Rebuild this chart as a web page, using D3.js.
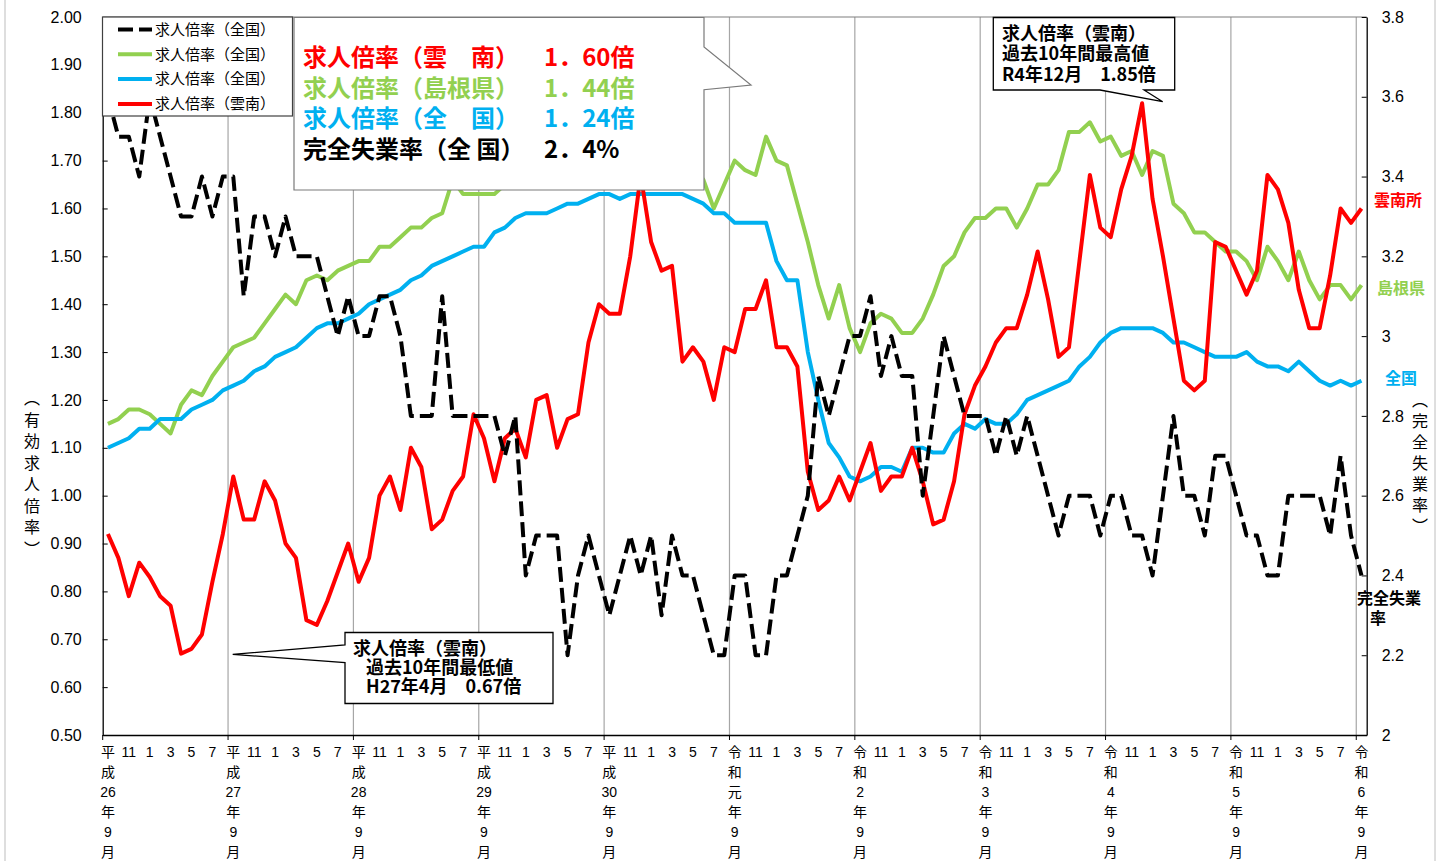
<!DOCTYPE html>
<html><head><meta charset="utf-8">
<script src="https://cdn.jsdelivr.net/npm/d3@7"></script>
<style>body{margin:0;background:#fff}svg{display:block}</style>
</head><body>
<svg id="chart" width="1445" height="861"></svg>
<script>
// ---------------- DATA ----------------
// monthly categories: 2014-09 (H26.9) ... 2024-09 (R6.9), 121 months
const months = d3.range(121).map(i => {
  const m = (8 + i) % 12 + 1, y = 2014 + Math.floor((8 + i) / 12);
  return y + "-" + String(m).padStart(2, "0");
});

// 有効求人倍率（雲南）
const ratioUnnan = [
  0.92,0.87,0.79,0.86,0.83,0.79,0.77,0.67,0.68,0.71,0.82,0.92,
  1.04,0.95,0.95,1.03,0.99,0.90,0.87,0.74,0.73,0.78,0.84,0.90,
  0.82,0.87,1.00,1.04,0.97,1.10,1.06,0.93,0.95,1.01,1.04,1.17,
  1.12,1.03,1.12,1.14,1.08,1.20,1.21,1.10,1.16,1.17,1.32,1.40,
  1.38,1.38,1.50,1.67,1.53,1.47,1.48,1.28,1.31,1.28,1.20,1.31,
  1.30,1.39,1.39,1.45,1.31,1.31,1.27,1.05,0.97,0.99,1.04,0.99,
  1.05,1.11,1.01,1.04,1.04,1.10,1.03,0.94,0.95,1.03,1.17,1.23,
  1.27,1.32,1.35,1.35,1.42,1.51,1.41,1.29,1.31,1.49,1.67,1.56,
  1.54,1.64,1.71,1.82,1.62,1.50,1.37,1.24,1.22,1.24,1.53,1.52,
  1.47,1.42,1.47,1.67,1.64,1.57,1.43,1.35,1.35,1.46,1.60,1.57,
  1.60
];
// 有効求人倍率（島根県）
const ratioShimane = [
  1.15,1.16,1.18,1.18,1.17,1.15,1.13,1.19,1.22,1.21,1.25,1.28,
  1.31,1.32,1.33,1.36,1.39,1.42,1.40,1.45,1.46,1.45,1.47,1.48,
  1.49,1.49,1.52,1.52,1.54,1.56,1.56,1.58,1.59,1.66,1.63,1.63,
  1.63,1.63,1.65,1.66,1.67,1.66,1.67,1.68,1.69,1.70,1.70,1.71,
  1.72,1.72,1.71,1.72,1.71,1.70,1.71,1.70,1.69,1.66,1.60,1.65,
  1.70,1.68,1.67,1.75,1.70,1.69,1.61,1.53,1.44,1.37,1.44,1.35,
  1.30,1.36,1.38,1.37,1.34,1.34,1.37,1.42,1.48,1.50,1.55,1.58,
  1.58,1.60,1.60,1.56,1.60,1.65,1.65,1.68,1.76,1.76,1.78,1.74,
  1.75,1.71,1.72,1.67,1.72,1.71,1.61,1.59,1.55,1.55,1.53,1.51,
  1.51,1.49,1.45,1.52,1.49,1.45,1.51,1.45,1.41,1.44,1.44,1.41,
  1.44
];
// 有効求人倍率（全国）
const ratioNational = [
  1.10,1.11,1.12,1.14,1.14,1.16,1.16,1.16,1.18,1.19,1.20,1.22,
  1.23,1.24,1.26,1.27,1.29,1.30,1.31,1.33,1.35,1.36,1.36,1.37,
  1.38,1.40,1.41,1.42,1.43,1.45,1.46,1.48,1.49,1.50,1.51,1.52,
  1.52,1.55,1.56,1.58,1.59,1.59,1.59,1.60,1.61,1.61,1.62,1.63,
  1.63,1.62,1.63,1.63,1.63,1.63,1.63,1.63,1.62,1.61,1.59,1.59,
  1.57,1.57,1.57,1.57,1.49,1.45,1.45,1.30,1.20,1.11,1.08,1.04,
  1.03,1.04,1.06,1.06,1.05,1.10,1.10,1.09,1.09,1.13,1.15,1.14,
  1.16,1.15,1.15,1.17,1.20,1.21,1.22,1.23,1.24,1.27,1.29,1.32,
  1.34,1.35,1.35,1.35,1.35,1.34,1.32,1.32,1.31,1.30,1.29,1.29,
  1.29,1.30,1.28,1.27,1.27,1.26,1.28,1.26,1.24,1.23,1.24,1.23,
  1.24
];
// 完全失業率（全国） — right axis
const unemployment = [
  3.6,3.5,3.5,3.4,3.6,3.5,3.4,3.3,3.3,3.4,3.3,3.4,
  3.4,3.1,3.3,3.3,3.2,3.3,3.2,3.2,3.2,3.1,3.0,3.1,
  3.0,3.0,3.1,3.1,3.0,2.8,2.8,2.8,3.1,2.8,2.8,2.8,
  2.8,2.8,2.7,2.8,2.4,2.5,2.5,2.5,2.2,2.4,2.5,2.4,
  2.3,2.4,2.5,2.4,2.5,2.3,2.5,2.4,2.4,2.3,2.2,2.2,
  2.4,2.4,2.2,2.2,2.4,2.4,2.5,2.6,2.9,2.8,2.9,3.0,
  3.0,3.1,2.9,3.0,2.9,2.9,2.6,2.8,3.0,2.9,2.8,2.8,
  2.8,2.7,2.8,2.7,2.8,2.7,2.6,2.5,2.6,2.6,2.6,2.5,
  2.6,2.6,2.5,2.5,2.4,2.6,2.8,2.6,2.6,2.5,2.7,2.7,
  2.6,2.5,2.5,2.4,2.4,2.6,2.6,2.6,2.6,2.5,2.7,2.5,
  2.4
];

const leftTicks = [0.5,0.6,0.7,0.8,0.9,1.0,1.1,1.2,1.3,1.4,1.5,1.6,1.7,1.8,1.9,2.0];
const rightTicks = [2,2.2,2.4,2.6,2.8,3,3.2,3.4,3.6,3.8];
const xTickLabels = [
  "平|成|26|年|9|月","11","1","3","5","7",
  "平|成|27|年|9|月","11","1","3","5","7",
  "平|成|28|年|9|月","11","1","3","5","7",
  "平|成|29|年|9|月","11","1","3","5","7",
  "平|成|30|年|9|月","11","1","3","5","7",
  "令|和|元|年|9|月","11","1","3","5","7",
  "令|和|2|年|9|月","11","1","3","5","7",
  "令|和|3|年|9|月","11","1","3","5","7",
  "令|和|4|年|9|月","11","1","3","5","7",
  "令|和|5|年|9|月","11","1","3","5","7",
  "令|和|6|年|9|月"
];
const legendLabels = ["求人倍率（全国）","求人倍率（全国）","求人倍率（全国）","求人倍率（雲南）"];
const summaryLabels = ["求人倍率（雲　南）","求人倍率（島根県）","求人倍率（全　国）","完全失業率（全 国）"];
const summaryValues = ["1．60倍","1．44倍","1．24倍","2．4%"];
const leftTitle = ["︵","有","効","求","人","倍","率","︶"];
const rightTitle = ["︵","完","全","失","業","率","︶"];
const lowNote = ["求人倍率（雲南）","過去10年間最低値","H27年4月　0.67倍"];
const highNote = ["求人倍率（雲南）","過去10年間最高値","R4年12月　1.85倍"];

// ---------------- STYLE / LAYOUT ----------------
const C = {red:"#FF0000", green:"#92D050", blue:"#00B0F0", black:"#000000"};
const JP = "'Noto Sans CJK JP','Noto Sans CJK SC',sans-serif";
const NUM = "'Liberation Sans',Arial,'Noto Sans CJK JP',sans-serif";
const P = {left:102.7, right:1366.7, top:17, bottom:735};

const svg = d3.select("#chart");
const x = d3.scaleBand().domain(months).range([P.left, P.right]).padding(0);
const cx = i => x(months[i]) + x.bandwidth() / 2;
const yL = d3.scaleLinear().domain([0.5, 2.0]).range([P.bottom, P.top]);
const yR = d3.scaleLinear().domain([2, 3.8]).range([P.bottom, P.top]);

// chart area border
svg.append("rect").attr("x",5).attr("y",-3).attr("width",1430).attr("height",870)
  .attr("fill","#fff").attr("stroke","#d4d4d4").attr("stroke-width",1.5);

// vertical gridlines at each September boundary
const gridIdx = d3.range(12, 121, 12);
svg.append("g").selectAll("line").data(gridIdx).join("line")
  .attr("x1", i => x(months[i])).attr("x2", i => x(months[i]))
  .attr("y1", P.top).attr("y2", P.bottom)
  .attr("stroke", "#a6a6a6").attr("stroke-width", 1.2);

// plot top border
svg.append("line").attr("x1",P.left).attr("x2",P.right).attr("y1",P.top).attr("y2",P.top)
  .attr("stroke","#7f7f7f").attr("stroke-width",1.2);

// series lines
const lineL = d3.line().x((d,i) => cx(i)).y(d => yL(d));
const lineR = d3.line().x((d,i) => cx(i)).y(d => yR(d));
const gLines = svg.append("g").attr("fill","none").attr("stroke-linejoin","round");
gLines.append("path").datum(ratioShimane).attr("d", lineL).attr("stroke", C.green).attr("stroke-width", 4);
gLines.append("path").datum(ratioNational).attr("d", lineL).attr("stroke", C.blue).attr("stroke-width", 4);
gLines.append("path").datum(ratioUnnan).attr("d", lineL).attr("stroke", C.red).attr("stroke-width", 4);
gLines.append("path").datum(unemployment).attr("d", lineR).attr("stroke", C.black).attr("stroke-width", 4)
  .attr("stroke-dasharray", "15,6");

// axes
const gLeft = svg.append("g").attr("transform", `translate(${P.left},0)`)
  .call(d3.axisLeft(yL).tickValues(leftTicks).tickFormat(d3.format(".2f"))
    .tickSizeInner(-5).tickSizeOuter(0).tickPadding(21));
const gRight = svg.append("g").attr("transform", `translate(${P.right},0)`)
  .call(d3.axisRight(yR).tickValues(rightTicks).tickFormat(d => String(+d.toFixed(1)))
    .tickSizeInner(-5).tickSizeOuter(0).tickPadding(15));
[gLeft, gRight].forEach(g => {
  g.select(".domain").attr("stroke", "#000").attr("stroke-width", 1.3);
  g.selectAll(".tick line").attr("stroke", "#000");
  g.selectAll("text").attr("font-family", NUM).attr("font-size", 16).attr("fill", "#000");
});

const tickMonths = months.filter((d,i) => i % 2 === 0);
const gBottom = svg.append("g").attr("transform", `translate(0,${P.bottom})`)
  .call(d3.axisBottom(x).tickValues(tickMonths).tickSize(0).tickPadding(0)
    .tickFormat((d,j) => xTickLabels[j]));
gBottom.select(".domain").attr("stroke", "#000").attr("stroke-width", 1.3);
gBottom.selectAll("text").each(function(d, j) {
  const parts = xTickLabels[j].split("|");
  const t = d3.select(this).text(null).attr("y", null).attr("dy", null)
    .attr("font-family", NUM).attr("font-size", 14).attr("fill", "#000");
  parts.forEach((p, k) => t.append("tspan").attr("x", 0).attr("y", 22 + 20 * k).text(p));
});
// year boundary tick marks
svg.append("g").selectAll("line").data(d3.range(0, 121, 12)).join("line")
  .attr("x1", i => x(months[i])).attr("x2", i => x(months[i]))
  .attr("y1", P.bottom).attr("y2", P.bottom + 5).attr("stroke", "#000");

// axis titles (vertical, stacked characters in one text each)
function stacked(chars, xPos, y0, step) {
  const t = svg.append("text").attr("text-anchor","middle").attr("dominant-baseline","central")
    .attr("font-family", JP).attr("font-size", 16).attr("fill", "#000");
  chars.forEach((c, i) => t.append("tspan").attr("x", xPos).attr("y", y0 + step * i).text(c));
}
stacked(leftTitle, 32, 397, 21.5);
stacked(rightTitle, 1420, 399, 21);

// series end labels
const endLabels = [
  {t:"雲南所", x:1374, y:206, c:C.red},
  {t:"島根県", x:1377, y:294, c:C.green},
  {t:"全国", x:1385, y:384, c:C.blue}
];
svg.append("g").selectAll("text").data(endLabels).join("text")
  .attr("x", d => d.x).attr("y", d => d.y).attr("fill", d => d.c)
  .attr("font-family", JP).attr("font-weight", "bold").attr("font-size", 16).text(d => d.t);
const tU = svg.append("text").attr("font-family", JP).attr("font-weight", "bold").attr("font-size", 16).attr("fill", C.black);
tU.append("tspan").attr("x", 1357).attr("y", 604).text("完全失業");
tU.append("tspan").attr("x", 1370).attr("y", 624).text("率");

// legend
const gLeg = svg.append("g");
gLeg.append("rect").attr("x",102.5).attr("y",17).attr("width",190).attr("height",99)
  .attr("fill","#fff").attr("stroke","#404040").attr("stroke-width",1.2);
const legStyles = [
  {c:C.black, dash:"15,6"}, {c:C.green, dash:null}, {c:C.blue, dash:null}, {c:C.red, dash:null}
];
legendLabels.forEach((lab, k) => {
  const yy = 29.5 + 24.8 * k;
  gLeg.append("line").attr("x1",118).attr("x2",152).attr("y1",yy).attr("y2",yy)
    .attr("stroke", legStyles[k].c).attr("stroke-width",4).attr("stroke-dasharray", legStyles[k].dash);
  gLeg.append("text").attr("x",155).attr("y",yy + 5.3).attr("font-family", JP).attr("font-size",15)
    .attr("fill","#000").text(lab);
});

// summary callout (top)
const gSum = svg.append("g");
gSum.append("path").attr("d","M294,17.5 H704 V47 L751,85 L704,89.7 V190 H294 Z")
  .attr("fill","#fff").attr("stroke","#7a7a7a").attr("stroke-width",1.2);
const sumColors = [C.red, C.green, C.blue, C.black];
const tSum = gSum.append("text").attr("font-family",JP).attr("font-weight","bold").attr("font-size",24);
summaryLabels.forEach((lab, k) => {
  const yy = 66 + 30.5 * k;
  tSum.append("tspan").attr("x",303).attr("y",yy).attr("fill",sumColors[k]).text(lab);
  tSum.append("tspan").attr("x",544).attr("y",yy).attr("fill",sumColors[k]).text(summaryValues[k]);
});

// low callout
const gLow = svg.append("g");
gLow.append("path").attr("d","M345,632.5 H553 V703.5 H345 V662.7 L232.7,654.3 L345,645 Z")
  .attr("fill","#fff").attr("stroke","#000").attr("stroke-width",1.3);
const tLow = gLow.append("text").attr("font-family",JP).attr("font-weight","bold").attr("font-size",18).attr("fill","#000");
lowNote.forEach((t, k) => {
  tLow.append("tspan").attr("x", k === 0 ? 353 : 366).attr("y", 654.5 + 19 * k).text(t);
});

// high callout
const gHigh = svg.append("g");
gHigh.append("path").attr("d","M993.3,17.5 H1174.7 V90 H1144 L1162.7,101.7 L1100,90 H993.3 Z")
  .attr("fill","#fff").attr("stroke","#000").attr("stroke-width",1.3);
const tHigh = gHigh.append("text").attr("font-family",JP).attr("font-weight","bold").attr("font-size",18).attr("fill","#000");
highNote.forEach((t, k) => {
  tHigh.append("tspan").attr("x", 1002).attr("y", 39.5 + 20.5 * k).text(t);
});
</script>
</body></html>
